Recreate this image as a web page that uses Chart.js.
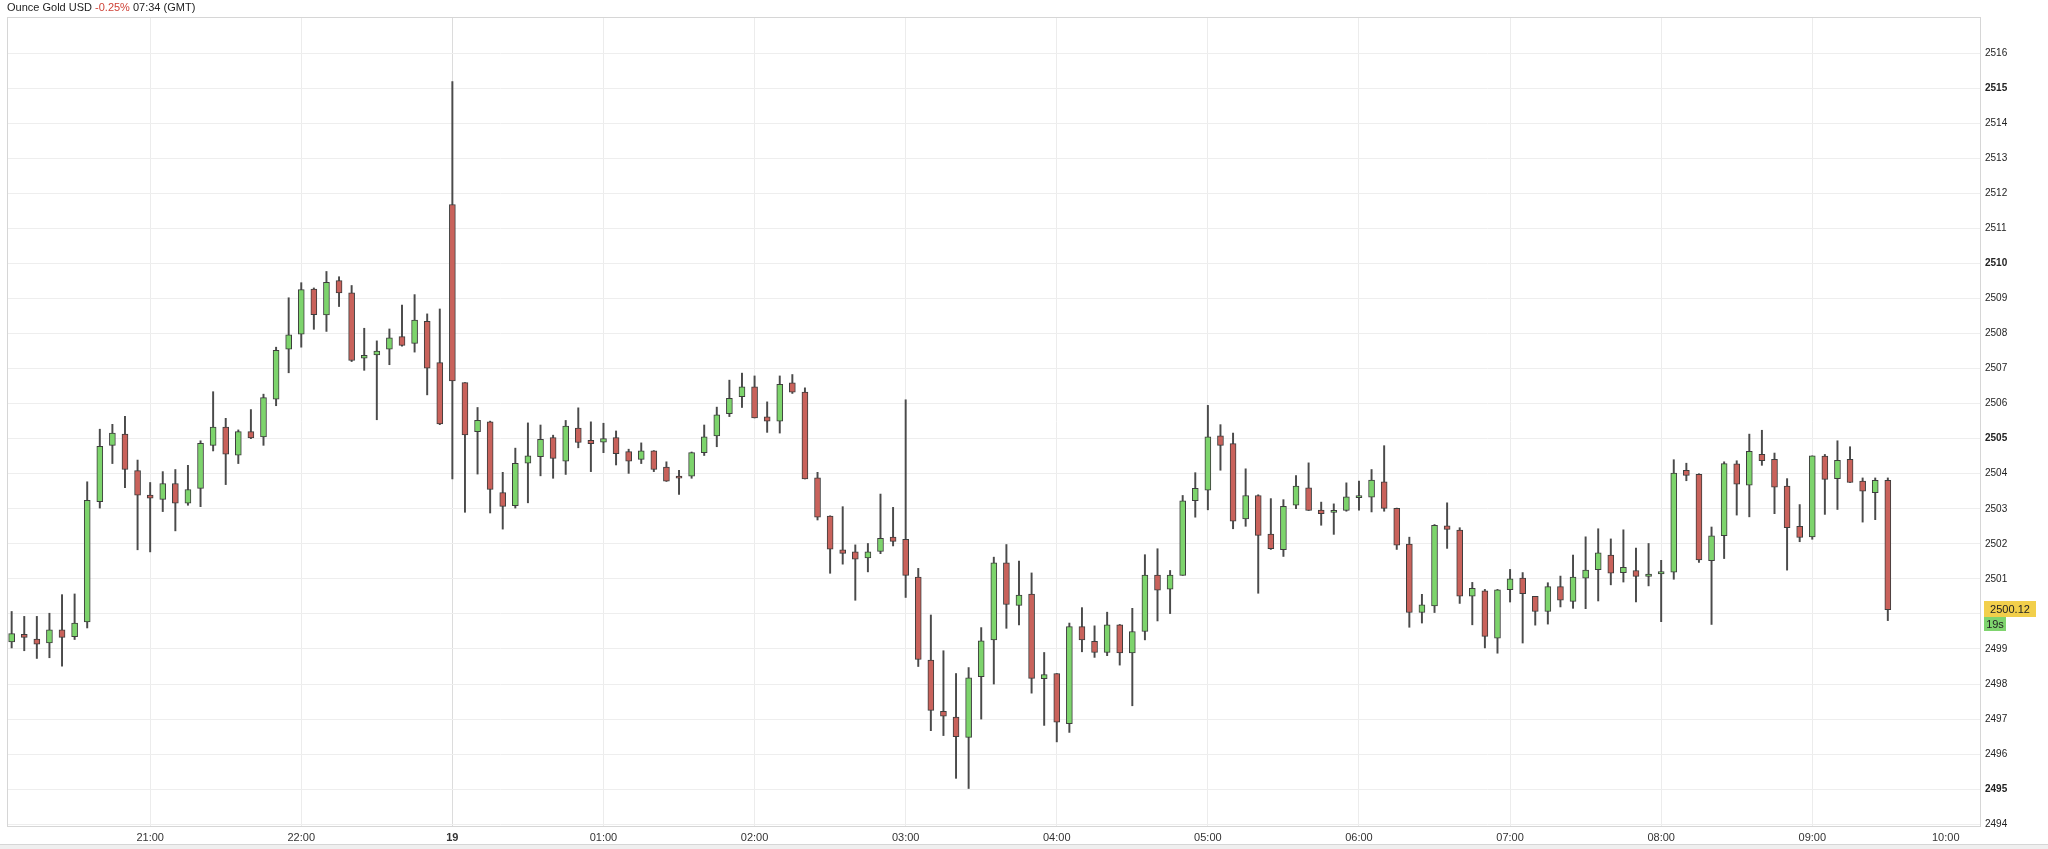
<!DOCTYPE html>
<html>
<head>
<meta charset="utf-8">
<script src="https://cdn.jsdelivr.net/npm/chart.js@4.4.1/dist/chart.umd.min.js"></script>
<style>
html, body { margin:0; padding:0; background:#fff; overflow:hidden; }
#wrap { position:relative; width:2048px; height:849px; }
#titulo { position:absolute; left:7px; top:1px; font:11px "Liberation Sans", Arial, sans-serif; color:#222; white-space:nowrap; }
#titulo .neg { color:#cf4237; }
#rolagem { position:absolute; left:0; top:844px; width:2048px; height:5px; background:#efefef; border-top:1px solid #d6d6d6; }
</style>
</head>
<body>
<div id="wrap">
<canvas id="grafico" width="2048" height="849"></canvas>
<div id="titulo">Ounce Gold USD <span class="neg">-0.25%</span> 07:34 (GMT)</div>
<div id="rolagem"></div>
</div>
<script>
// velas de 5 minutos (abertura, máxima, mínima, fechamento)
const openPrices = [
  2499.20, 2499.42, 2499.28, 2499.17, 2499.55, 2499.35, 2499.77, 2503.20, 2504.81, 2505.13,
  2504.09, 2503.39, 2503.27, 2503.72, 2503.16, 2503.58, 2504.81, 2505.33, 2504.53, 2505.20,
  2505.05, 2506.13, 2507.55, 2507.98, 2509.27, 2508.53, 2509.51, 2509.16, 2507.30, 2507.39,
  2507.55, 2507.91, 2507.72, 2508.35, 2507.17, 2511.68, 2506.60, 2505.20, 2505.48, 2503.46,
  2503.09, 2504.30, 2504.49, 2505.03, 2504.36, 2505.30, 2504.95, 2504.90, 2505.03, 2504.63,
  2504.41, 2504.65, 2504.19, 2503.93, 2503.93, 2504.60, 2505.08, 2505.71, 2506.20, 2506.48,
  2505.62, 2505.50, 2506.59, 2506.33, 2503.88, 2502.79, 2501.83, 2501.77, 2501.60, 2501.78,
  2502.19, 2502.13, 2501.05, 2498.68, 2497.22, 2497.06, 2496.48, 2498.21, 2499.26, 2501.46,
  2500.24, 2500.57, 2498.15, 2498.30, 2496.87, 2499.64, 2499.22, 2498.90, 2499.69, 2498.89,
  2499.50, 2501.11, 2500.71, 2501.10, 2503.23, 2503.53, 2505.08, 2504.86, 2502.71, 2503.38,
  2502.28, 2501.83, 2503.10, 2503.60, 2502.96, 2502.90, 2502.95, 2503.34, 2503.33, 2503.77,
  2503.01, 2501.99, 2500.04, 2500.23, 2502.51, 2502.39, 2500.51, 2500.66, 2499.31, 2500.69,
  2501.02, 2500.50, 2500.07, 2500.78, 2500.36, 2501.02, 2501.26, 2501.68, 2501.18, 2501.24,
  2501.07, 2501.17, 2501.19, 2504.10, 2503.98, 2501.52, 2502.23, 2504.28, 2503.67, 2504.55,
  2504.41, 2503.65, 2502.50, 2502.20, 2504.50, 2503.86, 2504.41, 2503.79, 2503.46, 2503.81
]
const highPrices = [
  2500.07, 2499.93, 2499.93, 2500.02, 2500.55, 2500.57, 2503.77, 2505.27, 2505.41, 2505.64,
  2504.39, 2503.75, 2504.06, 2504.12, 2504.24, 2504.94, 2506.34, 2505.58, 2505.25, 2505.83,
  2506.27, 2507.61, 2509.02, 2509.45, 2509.30, 2509.77, 2509.62, 2509.37, 2508.15, 2507.79,
  2508.13, 2508.81, 2509.11, 2508.56, 2508.70, 2515.19, 2506.60, 2505.89, 2505.50, 2504.04,
  2504.73, 2505.45, 2505.39, 2505.10, 2505.52, 2505.88, 2505.48, 2505.44, 2505.22, 2504.70,
  2504.88, 2504.66, 2504.34, 2504.10, 2504.62, 2505.39, 2505.90, 2506.67, 2506.87, 2506.79,
  2506.05, 2506.79, 2506.83, 2506.45, 2504.04, 2502.80, 2503.06, 2501.97, 2502.01, 2503.42,
  2503.04, 2506.11, 2501.30, 2499.97, 2498.95, 2498.30, 2498.47, 2499.61, 2501.62, 2501.98,
  2501.51, 2501.17, 2498.90, 2498.30, 2499.74, 2500.18, 2499.66, 2500.05, 2499.70, 2500.16,
  2501.69, 2501.86, 2501.24, 2503.38, 2504.03, 2505.95, 2505.40, 2505.16, 2504.14, 2503.40,
  2503.29, 2503.26, 2503.95, 2504.31, 2503.19, 2503.14, 2503.74, 2503.79, 2504.12, 2504.80,
  2503.02, 2502.19, 2500.56, 2502.55, 2503.17, 2502.46, 2500.90, 2500.70, 2500.70, 2501.27,
  2501.18, 2500.50, 2500.89, 2501.08, 2501.68, 2502.20, 2502.43, 2502.14, 2502.40, 2501.88,
  2502.01, 2501.53, 2504.40, 2504.30, 2504.00, 2502.48, 2504.34, 2504.37, 2505.13, 2505.24,
  2504.59, 2503.86, 2503.12, 2504.51, 2504.55, 2504.94, 2504.77, 2503.88, 2503.88, 2503.88
]
const lowPrices = [
  2499.03, 2498.95, 2498.73, 2498.75, 2498.51, 2499.27, 2499.60, 2503.02, 2504.29, 2503.60,
  2501.83, 2501.77, 2502.92, 2502.37, 2503.10, 2503.06, 2504.65, 2503.69, 2504.29, 2505.00,
  2504.81, 2505.94, 2506.88, 2507.61, 2508.12, 2508.06, 2508.77, 2507.20, 2506.95, 2505.54,
  2507.11, 2507.64, 2507.47, 2506.25, 2505.40, 2503.85, 2502.90, 2503.99, 2502.88, 2502.42,
  2503.02, 2503.17, 2503.94, 2503.87, 2503.98, 2504.74, 2504.06, 2504.60, 2504.25, 2504.01,
  2504.29, 2504.06, 2503.78, 2503.41, 2503.87, 2504.52, 2504.77, 2505.63, 2505.89, 2505.59,
  2505.18, 2505.16, 2506.29, 2503.85, 2502.68, 2501.16, 2501.42, 2500.39, 2501.20, 2501.72,
  2501.94, 2500.47, 2498.50, 2496.67, 2496.53, 2495.31, 2495.02, 2497.00, 2498.00, 2499.59,
  2499.69, 2497.74, 2496.82, 2496.35, 2496.62, 2498.92, 2498.76, 2498.81, 2498.54, 2497.38,
  2499.26, 2499.80, 2500.01, 2501.10, 2502.76, 2502.97, 2504.10, 2502.43, 2502.50, 2500.59,
  2501.84, 2501.64, 2503.00, 2502.95, 2502.53, 2502.27, 2502.93, 2502.96, 2502.91, 2502.93,
  2501.84, 2499.62, 2499.74, 2500.04, 2501.87, 2500.30, 2499.69, 2499.03, 2498.88, 2500.34,
  2499.17, 2499.68, 2499.71, 2500.20, 2500.16, 2500.15, 2500.37, 2500.83, 2500.91, 2500.34,
  2500.80, 2499.78, 2500.99, 2503.80, 2501.47, 2499.70, 2501.58, 2502.82, 2502.77, 2504.24,
  2502.86, 2501.25, 2502.06, 2502.13, 2502.84, 2502.98, 2503.75, 2502.62, 2502.69, 2499.81
]
const closePrices = [
  2499.44, 2499.33, 2499.14, 2499.55, 2499.33, 2499.74, 2503.24, 2504.78, 2505.16, 2504.12,
  2503.39, 2503.30, 2503.72, 2503.16, 2503.55, 2504.87, 2505.33, 2504.56, 2505.20, 2505.02,
  2506.17, 2507.52, 2507.96, 2509.25, 2508.54, 2509.46, 2509.16, 2507.23, 2507.38, 2507.50,
  2507.88, 2507.66, 2508.38, 2507.01, 2505.42, 2506.65, 2505.11, 2505.52, 2503.55, 2503.07,
  2504.30, 2504.51, 2504.98, 2504.44, 2505.36, 2504.89, 2504.86, 2505.00, 2504.57, 2504.36,
  2504.65, 2504.12, 2503.79, 2503.87, 2504.60, 2505.05, 2505.68, 2506.15, 2506.48, 2505.59,
  2505.50, 2506.55, 2506.33, 2503.85, 2502.76, 2501.85, 2501.73, 2501.56, 2501.77, 2502.16,
  2502.07, 2501.10, 2498.70, 2497.25, 2497.08, 2496.50, 2498.18, 2499.23, 2501.46, 2500.27,
  2500.54, 2498.16, 2498.27, 2496.91, 2499.64, 2499.26, 2498.90, 2499.69, 2498.89, 2499.50,
  2501.11, 2500.68, 2501.11, 2503.23, 2503.58, 2505.05, 2504.81, 2502.65, 2503.38, 2502.24,
  2501.86, 2503.07, 2503.65, 2502.95, 2502.86, 2502.95, 2503.34, 2503.35, 2503.82, 2503.01,
  2501.96, 2500.04, 2500.26, 2502.53, 2502.41, 2500.51, 2500.73, 2499.36, 2500.69, 2501.00,
  2500.58, 2500.07, 2500.78, 2500.39, 2501.05, 2501.25, 2501.74, 2501.16, 2501.33, 2501.07,
  2501.14, 2501.18, 2504.02, 2503.95, 2501.54, 2502.23, 2504.29, 2503.70, 2504.64, 2504.37,
  2503.62, 2502.46, 2502.18, 2504.51, 2503.84, 2504.38, 2503.75, 2503.50, 2503.81, 2500.12
]

// rótulos do eixo de tempo e a vela onde cada um cai
const timeLabels = ['21:00', '22:00', '19', '01:00', '02:00', '03:00', '04:00', '05:00', '06:00', '07:00', '08:00', '09:00', '10:00']
const timeIndex = [11, 23, 35, 47, 59, 71, 83, 95, 107, 119, 131, 143, 153.6]

const priceTicks = []
for (let p = 2494; p <= 2516; p++) {
    priceTicks.push(p)
}

const countdown = '19s'

//montando os dados das velas
let corpos = []
let pavios = []
let coresCorpo = []
for (let i = 0; i < openPrices.length; i++) {
    let o = openPrices[i]
    let c = closePrices[i]
    let a = Math.min(o, c)
    let b = Math.max(o, c)
    if (b - a < 0.06) { // doji: deixa o corpo visível
        let m = (a + b) / 2
        a = m - 0.03
        b = m + 0.03
    }
    corpos.push({ x: i, y: [a, b] })
    pavios.push({ x: i, y: [lowPrices[i], highPrices[i]] })
    coresCorpo.push(c >= o ? '#7dd46c' : '#c9625b')
}

//moldura + etiqueta do último preço
const extras = {
    id: 'extras',
    afterDraw(chart) {
        const { ctx, chartArea: a, scales } = chart
        ctx.save()
        ctx.strokeStyle = '#d6d6d6'
        ctx.lineWidth = 1
        ctx.strokeRect(a.left + 0.5, a.top + 0.5, a.right - a.left - 1, a.bottom - a.top)

        const ultimo = closePrices[closePrices.length - 1]
        const y = Math.round(scales.y.getPixelForValue(ultimo))
        ctx.fillStyle = '#f2cf4b'
        ctx.fillRect(a.right + 3, y - 9, 52, 16)
        ctx.fillStyle = '#222'
        ctx.font = '11px "Liberation Sans", Arial, sans-serif'
        ctx.textBaseline = 'middle'
        ctx.textAlign = 'center'
        ctx.fillText(ultimo.toFixed(2), a.right + 29, y - 0.5)
        ctx.fillStyle = '#7fd46e'
        ctx.fillRect(a.right + 3, y + 7, 22, 14)
        ctx.fillStyle = '#222'
        ctx.fillText(countdown, a.right + 14, y + 14.5)
        ctx.restore()
    }
}

var ctxGold = document.getElementById('grafico').getContext('2d')
var goldChart = new Chart(ctxGold, {
    type: 'bar',
    data: {
        datasets: [
            {
                label: 'corpo',
                data: corpos,
                backgroundColor: coresCorpo,
                borderColor: '#3d3d3d',
                borderWidth: 1,
                borderSkipped: false,
                barThickness: 6,
                grouped: false
            },
            {
                label: 'pavio',
                data: pavios,
                backgroundColor: '#4a4a4a',
                borderWidth: 0,
                barThickness: 1.3,
                grouped: false
            }
        ]
    },
    options: {
        responsive: false,
        animation: false,
        devicePixelRatio: 1,
        layout: { padding: { left: 7, top: 17, right: 0, bottom: 0 } },
        plugins: {
            legend: { display: false },
            tooltip: { enabled: false }
        },
        scales: {
            x: {
                type: 'linear',
                offset: false,
                min: -0.37,
                max: 156.4,
                afterBuildTicks: (scale) => {
                    scale.ticks = timeIndex.map(v => ({ value: v }))
                },
                afterFit: (scale) => { scale.height = 23 },
                border: { display: false },
                grid: {
                    offset: false,
                    drawTicks: false,
                    color: (c) => {
                        if (!c.tick) return 'rgba(0,0,0,0)'
                        if (c.tick.value === 35) return '#dcdcdc'
                        if (c.tick.value > 150) return 'rgba(0,0,0,0)'
                        return '#ececec'
                    }
                },
                ticks: {
                    autoSkip: false,
                    maxRotation: 0,
                    padding: 5,
                    color: '#333',
                    font: (c) => ({
                        family: '"Liberation Sans", Arial, sans-serif',
                        size: 11,
                        weight: (c.tick && c.tick.value === 35) ? 'bold' : 'normal'
                    }),
                    callback: (v) => {
                        const k = timeIndex.indexOf(v)
                        return k >= 0 ? timeLabels[k] : ''
                    }
                }
            },
            y: {
                position: 'right',
                min: 2493.95,
                max: 2517.03,
                afterBuildTicks: (scale) => {
                    scale.ticks = priceTicks.map(v => ({ value: v }))
                },
                afterFit: (scale) => { scale.width = 67 },
                border: { display: false },
                grid: { drawTicks: false, color: '#eeeeee' },
                ticks: {
                    padding: 4,
                    color: '#222',
                    font: (c) => ({
                        family: '"Liberation Sans", Arial, sans-serif',
                        size: 10,
                        weight: (c.tick && c.tick.value % 5 === 0) ? 'bold' : 'normal'
                    }),
                    callback: (v) => String(v)
                }
            }
        }
    },
    plugins: [extras]
})
</script>
</body>
</html>
